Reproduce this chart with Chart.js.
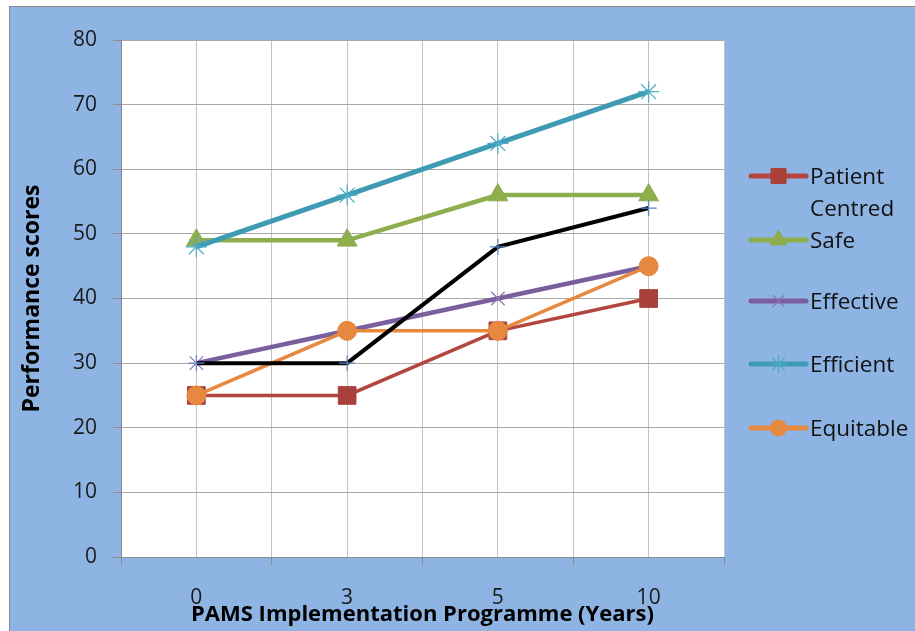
<!DOCTYPE html>
<html>
<head>
<meta charset="utf-8">
<title>Performance scores by PAMS implementation year</title>
<script src="https://cdn.jsdelivr.net/npm/chart.js@4/dist/chart.umd.min.js"></script>
<style>
  html, body { margin: 0; padding: 0; background: #ffffff; }
  #frame {
    position: absolute; left: 9px; top: 6px;
    width: 905px; height: 624px;
    border-left: 1px solid #8a8a8a; border-top: 1px solid #8a8a8a;
    background: #8EB4E3;
  }
  #chart { display: block; }
</style>
</head>
<body>
<div id="frame"><canvas id="chart" width="905" height="624"></canvas></div>
<script>
// Years since the programme started (category labels on the x axis)
const years = ['0', '3', '5', '10'];

// Performance scores per quality dimension
const patientCentred = [25, 25, 35, 40];
const safe           = [49, 49, 56, 56];
const effective      = [30, 35, 40, 45];
const efficient      = [48, 56, 64, 72];
const equitable      = [25, 35, 35, 45];
const timely         = [30, 30, 48, 54];

const yTicks = { min: 0, max: 80, step: 10 };

const xTitle = 'PAMS Implementation Programme (Years)';
const yTitle = 'Performance scores';

const FONT = "'Open Sans', 'DejaVu Sans', sans-serif";

function toPoints(values) {
  return values.map((v, i) => ({ x: i, y: v }));
}

const seriesDefs = [
  { label: 'Patient Centred', legendLines: ['Patient', 'Centred'], values: patientCentred,
    line: '#B3453F', point: '#A8403C', style: 'rect', radius: 12.5, pw: 1, width: 3.5, legend: true },
  { label: 'Safe', legendLines: ['Safe'], values: safe,
    line: '#8EAD4C', point: '#8EAD4C', style: 'triangle', radius: 11.5, pw: 1, width: 4.5, legend: true },
  { label: 'Effective', legendLines: ['Effective'], values: effective,
    line: '#7B5E9E', point: '#8A74B0', style: 'crossRot', radius: 9.5, pw: 1.2, width: 4.5, legend: true },
  { label: 'Efficient', legendLines: ['Efficient'], values: efficient,
    line: '#3F9BB4', point: '#4BACC6', style: 'star', radius: 10.5, pw: 1.2, width: 5, legend: true },
  { label: 'Equitable', legendLines: ['Equitable'], values: equitable,
    line: '#E6883F', point: '#E6883F', style: 'circle', radius: 9.5, pw: 1, width: 3.5, legend: true },
  { label: 'Timely', legendLines: ['Timely'], values: timely,
    line: '#000000', point: '#5B86C6', style: 'cross', radius: 8, pw: 1.2, width: 4, legend: false }
];

const N = seriesDefs.length;
const datasets = seriesDefs.map((s, i) => ({
  label: s.label,
  data: toPoints(s.values),
  borderColor: s.line,
  borderWidth: s.width,
  backgroundColor: s.point,
  pointStyle: s.style,
  pointRadius: s.radius,
  pointHoverRadius: s.radius,
  pointBackgroundColor: s.point,
  pointBorderColor: s.point,
  pointBorderWidth: s.pw,
  tension: 0,
  fill: false,
  order: N - i   // later series are painted over earlier ones
}));

// White plot area on the blue chart background
const plotBackground = {
  id: 'plotBackground',
  beforeDraw(chart) {
    const { ctx, chartArea: a } = chart;
    ctx.save();
    ctx.fillStyle = '#ffffff';
    ctx.fillRect(a.left, a.top, a.right - a.left, a.bottom - a.top);
    ctx.restore();
  }
};

// Legend on the right-hand side, with wrapped names and uneven spacing
const sideLegend = {
  id: 'sideLegend',
  afterDraw(chart) {
    const ctx = chart.ctx;
    const rowsY = [169, 233, 294, 357, 421];
    const x0 = 741, x1 = 796, tx = 800, lineGap = 32;
    let row = 0;
    ctx.save();
    seriesDefs.forEach((s) => {
      if (!s.legend) return;
      const y = rowsY[row++];
      ctx.strokeStyle = s.line;
      ctx.lineWidth = 5;
      ctx.lineCap = 'round';
      ctx.beginPath();
      ctx.moveTo(x0, y);
      ctx.lineTo(x1, y);
      ctx.stroke();
      const mx = (x0 + x1) / 2;
      const r = s.radius * 0.85;
      ctx.fillStyle = s.point;
      ctx.strokeStyle = s.point;
      ctx.lineWidth = s.pw;
      ctx.lineCap = 'butt';
      Chart.helpers.drawPoint(ctx, { pointStyle: s.style, radius: r, borderWidth: s.pw, rotation: 0 }, mx, y);
      ctx.fillStyle = '#111111';
      ctx.font = '22.5px ' + FONT;
      ctx.textAlign = 'left';
      ctx.textBaseline = 'middle';
      s.legendLines.forEach((t, k) => ctx.fillText(t, tx, y + 2 + k * lineGap));
    });
    ctx.restore();
  }
};

new Chart(document.getElementById('chart'), {
  type: 'line',
  data: { datasets },
  plugins: [plotBackground, sideLegend],
  options: {
    responsive: false,
    animation: false,
    events: [],
    layout: { padding: { left: 0, top: 33, right: 191, bottom: 0 } },
    plugins: {
      legend: { display: false },
      tooltip: { enabled: false }
    },
    scales: {
      x: {
        type: 'linear',
        position: 'bottom',
        min: -0.5,
        max: years.length - 0.5,
        afterFit: (s) => { s.height = 74; },
        border: { color: '#8a8a8a', width: 1 },
        grid: {
          color: '#C4C4C4',
          lineWidth: 1,
          tickLength: 8,
          tickColor: (c) => (c.tick && Number.isInteger(c.tick.value)) ? 'rgba(0,0,0,0)' : '#8a8a8a'
        },
        ticks: {
          stepSize: 0.5,
          autoSkip: false,
          maxRotation: 0,
          padding: 20,
          color: '#1a1a1a',
          font: { family: FONT, size: 21 },
          callback: (v) => Number.isInteger(v) ? years[v] : ''
        },
        title: {
          display: true,
          text: xTitle,
          color: '#000000',
          font: { family: FONT, size: 22, weight: 'bold' },
          padding: { top: 0, bottom: 3 }
        }
      },
      y: {
        min: yTicks.min,
        max: yTicks.max,
        afterFit: (s) => { s.width = 111; },
        border: { color: '#8a8a8a', width: 1 },
        grid: {
          color: '#A8A8A8',
          lineWidth: 1,
          tickLength: 8,
          tickColor: '#8a8a8a'
        },
        ticks: {
          stepSize: yTicks.step,
          padding: 16,
          color: '#1a1a1a',
          font: { family: FONT, size: 21 }
        },
        title: {
          display: true,
          text: yTitle,
          color: '#000000',
          font: { family: FONT, size: 23, weight: 'bold' },
          padding: { top: 9, bottom: 0 }
        }
      }
    }
  }
});
</script>
</body>
</html>
